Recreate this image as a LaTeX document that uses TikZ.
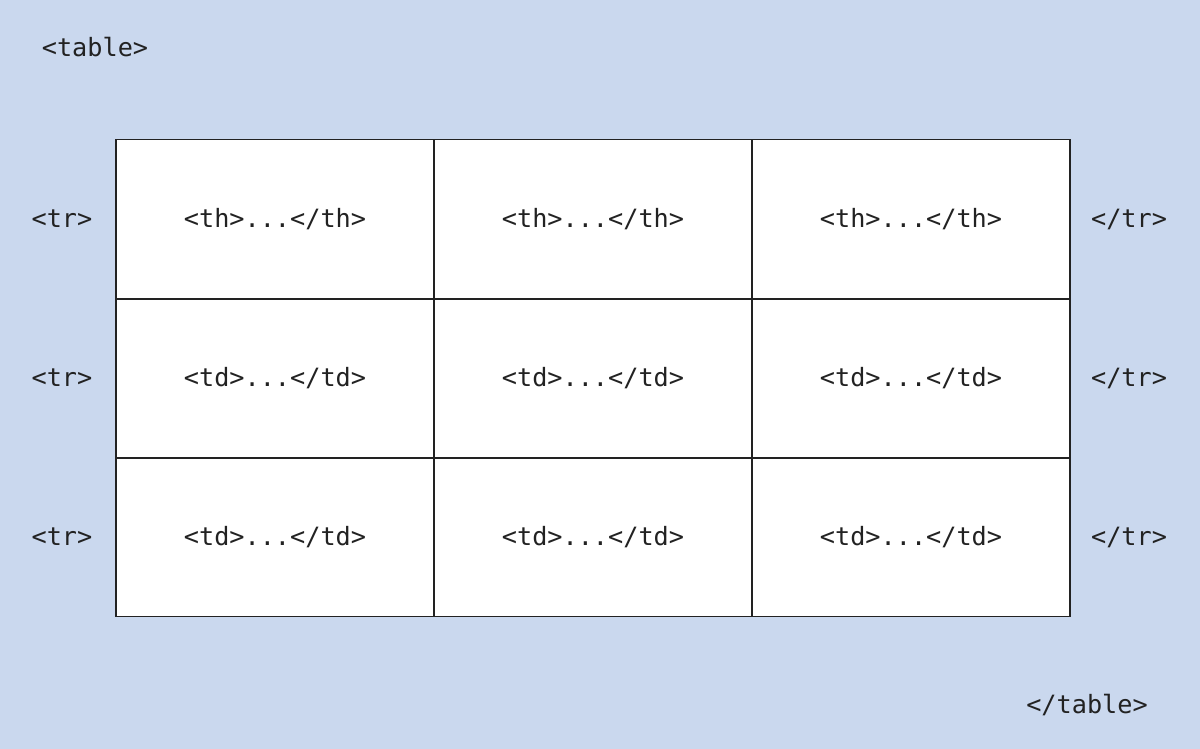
\documentclass[tikz,border=0pt]{standalone}
\usepackage{fontspec}
\setmonofont{DejaVu Sans Mono}
\definecolor{bgblue}{RGB}{202,216,238}
\definecolor{txt}{RGB}{34,34,34}
\begin{document}
\begin{tikzpicture}[x=0.5pt,y=-0.5pt,
  lbl/.style={font=\ttfamily\fontsize{12.6}{15}\selectfont, text=txt, inner sep=0pt},
  cell/.style={draw=txt, line width=0.75pt, fill=white, minimum width=159pt, minimum height=79.25pt, inner sep=0pt, outer sep=0pt, font=\ttfamily\fontsize{12.6}{15}\selectfont, text=txt}]
\fill[bgblue] (0,0) rectangle (1200,749);
\useasboundingbox (0,0) rectangle (1200,749);
\node[lbl] (tbl) at (95,47) {<table>};
\node[lbl] (etbl) at (1087,705) {</table>};
\foreach \r/\y/\t in {1/219/th,2/378/td,3/537/td}{
  \node[lbl] (trl\r) at (62,\y) {<tr>};
  \node[lbl] (trr\r) at (1129,\y) {</tr>};
  \foreach \c/\x in {1/275,2/593,3/911}{
    \node[cell] (c\r\c) at (\x,\y) {<\t>...</\t>};
  }
}
\end{tikzpicture}
\end{document}
